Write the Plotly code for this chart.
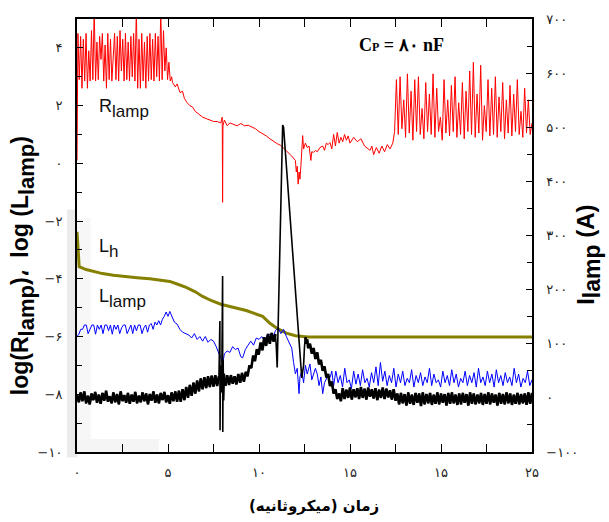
import numpy as np
import plotly.graph_objects as go

# ---------------- data ----------------
# R_lamp  (log scale value, left axis)
r_start_x = [0.0, 0.03]
r_start_y = [0.1, 4.2]
r_band1_range = (0.05, 5.2)
r_band1 = [4.5, 2.9, 4.4, 2.6, 4.3, 2.85, 4.5, 2.6, 3.9, 2.85, 4.6, 2.9, 5.3, 2.85, 4.2, 2.9,
           4.4, 3.6, 4.5, 2.85, 4.1, 2.6, 4.5, 2.9, 4.3, 2.85, 3.8, 4.5, 2.9, 4.4, 2.85, 4.6,
           3.2, 4.3, 2.85, 4.5, 2.9, 4.2, 2.85, 4.4, 3.0, 4.5, 2.85, 5.3, 2.6, 4.3, 2.6, 4.5,
           2.85, 4.2, 2.6, 4.4, 2.85, 4.5, 2.9, 4.3, 2.85, 4.5, 3.0, 4.4, 2.85, 5.3, 2.9, 4.6,
           3.2, 4.0, 2.9, 3.5, 2.85, 3.0]
r_mid_x = [5.25, 5.4, 5.5, 5.66, 5.8, 5.9, 6.05, 6.2, 6.35, 6.5, 6.7, 6.9, 7.1, 7.3, 7.5, 7.7,
           7.9, 7.98, 8.0, 8.02, 8.1, 8.25, 8.4, 8.6, 8.8, 9.0, 9.2, 9.4, 9.6, 9.8, 10.0, 10.2,
           10.4, 10.6, 10.8, 11.0, 11.2, 11.4, 11.6, 11.8, 12.0, 12.05, 12.1, 12.15, 12.2, 12.25,
           12.3, 12.35, 12.4, 12.45, 12.55, 12.65, 12.75, 12.85, 12.9, 13.0, 13.1, 13.2, 13.35,
           13.5, 13.6, 13.7, 13.8, 13.9, 14.0, 14.1, 14.2, 14.3, 14.4, 14.5, 14.6, 14.7, 14.8,
           14.9, 15.0, 15.2, 15.4, 15.6, 15.8, 16.0, 16.1, 16.2, 16.3, 16.45, 16.6, 16.75, 16.9,
           17.05, 17.2, 17.35]
r_mid_y = [2.8, 2.65, 2.75, 2.45, 2.5, 2.25, 2.1, 2.0, 1.95, 1.8, 1.7, 1.6, 1.55, 1.5, 1.45, 1.45,
           1.4, 1.6, -1.35, 1.3, 1.5, 1.3, 1.4, 1.35, 1.3, 1.38, 1.3, 1.32, 1.25, 1.2, 1.1, 1.03,
           0.95, 0.85, 0.75, 0.68, 0.62, 0.5, 0.4, 0.25, 0.1, -0.3, -0.1, -0.72, -0.3, -0.55,
           -0.1, 0.3, 0.96, 0.5, 0.7, 0.55, 0.6, 0.1, 0.4, 0.38, 0.45, 0.4, 0.55,
           0.6, 0.45, 0.7, 0.65, 0.72, 0.5, 1.0, 0.6, 1.07, 0.7, 0.9, 0.75, 1.0, 0.8,
           0.95, 0.7, 0.9, 0.75, 0.85, 0.6, 0.5, 0.45, 0.6, 0.3, 0.55, 0.35, 0.6, 0.4,
           0.65, 0.5, 0.7]
r_band2_range = (17.45, 25.0)
r_band2 = [1.1, 2.9, 1.0, 3.0, 1.2, 2.2, 0.9, 3.1, 1.05, 2.5, 0.8, 2.9, 1.1, 3.0, 1.0, 1.9, 0.85,
           2.8, 1.1, 2.4, 1.0, 3.1, 0.9, 2.6, 1.1, 1.6, 0.8, 2.9, 1.05, 2.2, 0.95, 2.7, 1.1, 3.0,
           0.9, 2.1, 1.0, 2.8, 0.85, 2.5, 1.1, 3.2, 1.0, 3.5, 0.9, 2.4, 1.05, 3.4, 0.8, 2.0, 1.1,
           2.9, 0.95, 2.6, 1.0, 3.0, 0.9, 2.3, 1.1, 2.8, 0.85, 2.2, 1.05, 2.7, 0.95, 2.4, 1.1,
           2.9, 1.0, 1.8, 0.9, 2.6, 1.05, 2.2, 1.0, 1.4]

# L_h (left axis)
lh_x = [0, 0.08, 0.12, 0.5, 1.0, 1.4, 2.0, 2.5, 3.3, 4.0, 4.5, 5.1, 5.5, 6.0, 6.5, 6.9, 7.4,
        7.9, 8.4, 8.8, 9.3, 9.7, 10.2, 10.6, 11.0, 11.5, 12.0, 12.4, 12.7, 25]
lh_y = [-2.37, -3.2, -3.58, -3.68, -3.76, -3.82, -3.88, -3.92, -3.96, -4.0, -4.04, -4.09, -4.18,
        -4.3, -4.45, -4.61, -4.76, -4.88, -4.96, -5.02, -5.1, -5.19, -5.3, -5.54, -5.72, -5.88,
        -5.97, -6.0, -6.02, -6.02]

# L_lamp (left axis)
ll_band1_range = (0.0, 5.0)
ll_band1 = [-6.0, -5.92, -5.75, -5.75, -5.6, -5.6, -5.9, -5.75, -5.6, -5.6, -5.92, -5.6, -5.75,
            -5.6, -5.9, -5.6, -5.6, -5.8, -5.6, -5.92, -5.6, -5.75, -5.6, -5.9, -5.7, -5.6, -5.6,
            -5.9, -5.75, -5.6, -5.9, -5.6, -5.8, -5.6, -5.6, -5.9, -5.7, -5.6, -5.85, -5.6, -5.55,
            -5.75, -5.5, -5.6, -5.45, -5.6, -5.4, -5.3, -5.15, -5.3]
ll_mid_x = [5.1, 5.2, 5.35, 5.5, 5.65, 5.8, 6.0, 6.15, 6.3, 6.45, 6.6, 6.75, 6.9, 7.05, 7.2,
            7.35, 7.5, 7.65, 7.8, 7.9, 8.0, 8.1, 8.25, 8.4, 8.55, 8.7, 8.85, 9.0, 9.1, 9.25, 9.4,
            9.55, 9.7, 9.85, 10.0, 10.15, 10.3, 10.45, 10.6, 10.75, 10.9, 11.05, 11.2, 11.35,
            11.5, 11.65, 11.8, 11.9, 12.0, 12.1, 12.2, 12.25, 12.35, 12.45, 12.55, 12.65, 12.8,
            12.9, 13.0, 13.1, 13.2, 13.3, 13.4, 13.5, 13.6, 13.75, 13.9, 14.0]
ll_mid_y = [-5.13, -5.3, -5.5, -5.57, -5.75, -5.85, -5.92, -5.95, -6.05, -5.9, -6.1, -6.0, -6.16,
            -6.0, -6.2, -6.1, -6.16, -6.35, -6.6, -6.7, -6.95, -6.6, -6.5, -6.55, -6.35, -6.45,
            -6.4, -6.7, -6.74, -6.45, -6.3, -6.16, -6.3, -6.05, -6.1, -6.0, -6.15, -5.95, -5.92,
            -6.05, -5.8, -5.7, -5.9, -5.75, -6.0, -6.2, -6.4, -6.9, -7.29, -7.1, -7.98, -7.4,
            -7.2, -7.6, -7.0, -7.3, -6.95, -7.5, -7.25, -7.1, -7.3, -7.7, -7.4, -7.98, -7.6,
            -7.4, -7.43, -7.2]
ll_band2_range = (14.1, 25.0)
ll_band2 = [-7.7, -7.2, -7.6, -7.35, -7.75, -7.1, -7.6, -7.5, -7.8, -7.2, -7.65, -7.3, -7.7, -7.15,
            -7.6, -7.45, -7.75, -7.25, -7.6, -7.05, -7.7, -6.9, -7.55, -7.2, -7.7, -7.35, -7.6,
            -7.1, -7.75, -7.3, -7.6, -7.2, -7.7, -7.45, -7.6, -7.15, -7.75, -7.35, -7.6, -7.25,
            -7.7, -7.4, -7.6, -7.1, -7.7, -7.3, -7.6, -7.5, -7.75, -7.2, -7.6, -7.35, -7.7, -7.15,
            -7.6, -7.3, -7.75, -7.45, -7.6, -7.2, -7.7, -7.35, -7.6, -7.25, -7.75, -7.1, -7.6,
            -7.4, -7.7, -7.2, -7.6, -7.3, -7.75, -7.15, -7.6, -7.35, -7.7, -7.25, -7.6, -7.4,
            -7.7, -7.1, -7.6, -7.3, -7.75, -7.45, -7.6, -7.2, -7.7, -7.5]

# I_lamp (A, right axis)
i_band1_range = (0.0, 5.5)
i_band1 = [5, -8, 10, -6, 12, -10, 4, -12, 8, -4, 11, -9, 6, -11, 9, -5, 13, -7, 3, -10, 10, -8,
           7, -12, 12, -6, 5, -9, 9, -11, 6, -7, 11, -10, 4, -8, 10, -6, 8, -12, 7, -5, 12, -9,
           6, -10, 9, -4, 11, -8, 5, -11, 10, -6, 12, -7]
i_rise_range = (5.6, 7.8)
i_rise = [13, -7, 16, -4, 20, 0, 24, 4, 28, 8, 32, 12, 36, 16, 38, 18, 40, 20, 41, 21, 42, 22, 40]
i_spike_x = [7.85, 7.86, 7.88, 7.92, 7.96, 8.0, 8.01, 8.03, 8.06, 8.1]
i_spike_y = [142, -60, 60, 10, 55, 225, -63, 70, -5, 45]
i_pre_range = (8.15, 10.9)
i_pre = [22, 42, 24, 42, 26, 40, 25, 44, 28, 46, 30, 48, 40, 60, 55, 78, 68, 90, 80, 102, 88, 112,
         96, 118, 100, 120, 104, 118]
i_peak_x = [10.95, 11.0, 11.3, 11.35, 12.35, 12.45, 12.5]
i_peak_y = [95, 56, 504, 500, 37, 60, 95]
i_bump_x = [12.55, 12.6, 12.65, 12.7, 12.8, 12.9, 13.0, 13.1, 13.2, 13.3, 13.4, 13.5, 13.6, 13.7,
            13.8, 13.9, 14.0, 14.1, 14.2, 14.3, 14.4, 14.5]
i_bump_y = [112, 100, 108, 92, 100, 82, 92, 72, 84, 62, 70, 50, 58, 38, 44, 22, 30, 8, 16, -2, 8,
            -6]
i_tail_range = (14.6, 25.0)
i_tail = [18, -2, 15, 0, 19, -3, 16, 1, 18, -2, 20, 0, 17, -3, 19, 2, 16, -1, 18, -4, 15, 0, 19,
          -2, 17, 1, 14, -3, 16, -5,
          8, -12, 9, -10, 7, -14, 10, -11, 6, -13, 9, -9, 8, -15, 10, -12, 7, -10, 9, -13, 6,
          -11, 10, -12, 8, -9, 7, -14, 9, -11, 10, -10, 6, -13, 8, -12, 9, -9, 7, -14, 10, -11,
          8, -12, 6, -10, 9, -13, 7, -11, 10, -12, 8, -9, 6, -14, 9, -11, 7, -12, 10, -10, 8,
          -13, 6, -11, 9, -12, 7, -10, 8, -13, 10, -11, 9]

# tick labels
x_tickvals = [0, 5, 10, 15, 20, 25]
x_ticktext = ["۰", "۵", "۱۰", "۱۵", "۱۵", "۲۵"]
y_tickvals = [-10, -8, -6, -4, -2, 0, 2, 4]
y_ticktext = ["−۱۰", "−۸", "−۶", "−۴", "−۲", "۰", "۲", "۴"]
y2_tickvals = [-100, 0, 100, 200, 300, 400, 500, 600, 700]
y2_ticktext = ["−۱۰۰", "۰", "۱۰۰", "۲۰۰", "۳۰۰", "۴۰۰", "۵۰۰", "۶۰۰", "۷۰۰"]


def seg(rng, vals):
    return list(np.linspace(rng[0], rng[1], len(vals))), list(vals)


rx1, ry1 = seg(r_band1_range, r_band1)
rx2, ry2 = seg(r_band2_range, r_band2)
r_x = r_start_x + rx1 + r_mid_x + rx2
r_y = r_start_y + ry1 + r_mid_y + ry2

lx1, ly1 = seg(ll_band1_range, ll_band1)
lx2, ly2 = seg(ll_band2_range, ll_band2)
ll_x = lx1 + ll_mid_x + lx2
ll_y = ly1 + ll_mid_y + ly2

ix1, iy1 = seg(i_band1_range, i_band1)
ix2, iy2 = seg(i_rise_range, i_rise)
ix3, iy3 = seg(i_pre_range, i_pre)
ix4, iy4 = seg(i_tail_range, i_tail)
i_x = ix1 + ix2 + i_spike_x + ix3 + i_peak_x + i_bump_x + ix4
i_y = iy1 + iy2 + i_spike_y + iy3 + i_peak_y + i_bump_y + iy4

# ---------------- figure ----------------
fig = go.Figure()
fig.add_trace(go.Scatter(x=r_x, y=r_y, mode="lines", line=dict(color="#ff0000", width=1),
                         yaxis="y", showlegend=False))
fig.add_trace(go.Scatter(x=lh_x, y=lh_y, mode="lines", line=dict(color="#858000", width=3),
                         yaxis="y", showlegend=False))
fig.add_trace(go.Scatter(x=ll_x, y=ll_y, mode="lines", line=dict(color="#0000ff", width=1),
                         yaxis="y", showlegend=False))
# thin full current trace
fig.add_trace(go.Scatter(x=i_x, y=i_y, mode="lines", line=dict(color="#000000", width=1.6),
                         yaxis="y2", showlegend=False))
# thicker rendering of the noisy (dense) portions of the current trace
for xs, ys in [(ix1 + ix2, iy1 + iy2), (ix3, iy3), (i_bump_x + ix4, i_bump_y + iy4)]:
    fig.add_trace(go.Scatter(x=xs, y=ys, mode="lines", line=dict(color="#000000", width=2.6),
                             yaxis="y2", showlegend=False))

tickfont = dict(family="DejaVu Sans", size=13, color="#222")
fig.update_layout(
    width=609, height=522,
    margin=dict(l=77, r=77, t=16, b=70),
    paper_bgcolor="white", plot_bgcolor="rgba(0,0,0,0)",
    xaxis=dict(range=[0, 25], showline=True, linecolor="black", linewidth=1.5, mirror="allticks",
               ticks="inside", ticklen=8, tickcolor="black", tickwidth=1,
               tickvals=x_tickvals, ticktext=x_ticktext, tickfont=tickfont,
               ticklabelstandoff=8,
               minor=dict(dtick=2.5, ticks="inside", ticklen=5, tickcolor="black"),
               showgrid=False, zeroline=False),
    yaxis=dict(range=[-10, 5], showline=True, linecolor="black", linewidth=2,
               ticks="inside", ticklen=6, tickcolor="black",
               tickvals=y_tickvals, ticktext=y_ticktext, tickfont=tickfont,
               ticklabelstandoff=10,
               minor=dict(dtick=1, ticks="inside", ticklen=5, tickcolor="black"),
               showgrid=False, zeroline=False),
    yaxis2=dict(range=[-100, 700], overlaying="y", side="right", showline=True,
                linecolor="black", linewidth=1.5,
                ticks="inside", ticklen=6, tickcolor="black",
                tickvals=y2_tickvals, ticktext=y2_ticktext, tickfont=tickfont,
                ticklabelstandoff=10,
                minor=dict(dtick=50, ticks="inside", ticklen=5, tickcolor="black"),
                showgrid=False, zeroline=False),
)

# faint grey watermark near the lower-left corner
fig.add_shape(type="rect", xref="paper", yref="paper", x0=-0.022, x1=0.0, y0=-0.012, y1=0.56,
              fillcolor="#ebebeb", line_width=0, layer="below")
fig.add_shape(type="rect", xref="paper", yref="paper", x0=0.0, x1=0.03, y0=0.0, y1=0.54,
              fillcolor="#f7f7f7", line_width=0, layer="below")
fig.add_shape(type="rect", xref="paper", yref="paper", x0=0.0, x1=0.18, y0=0.0, y1=0.03,
              fillcolor="#f5f5f5", line_width=0, layer="below")

lab_font = dict(family="Liberation Sans, Arial", size=18, color="#111")


def subs(txt, size, shift):
    return "<span style='font-size:%dpx;baseline-shift:-%dpx'>%s</span>" % (size, shift, txt)


fig.add_annotation(x=1.1, y=1.9, xref="x", yref="y", text="R" + subs("lamp", 17, 5),
                   showarrow=False, xanchor="left", yanchor="middle", font=lab_font)
fig.add_annotation(x=1.1, y=-2.95, xref="x", yref="y", text="L" + subs("h", 17, 5),
                   showarrow=False, xanchor="left", yanchor="middle", font=lab_font)
fig.add_annotation(x=1.1, y=-4.68, xref="x", yref="y", text="L" + subs("lamp", 17, 5),
                   showarrow=False, xanchor="left", yanchor="middle", font=lab_font)
fig.add_annotation(x=15.4, y=4.1, xref="x", yref="y",
                   text="<b>C<span style='font-size:12px'>P</span> = ۸۰ nF</b>",
                   showarrow=False, xanchor="left", yanchor="middle",
                   font=dict(family="Liberation Serif, Times New Roman", size=18, color="black"))

fig.add_annotation(x=-0.12, y=0.43, xref="paper", yref="paper", textangle=-90,
                   text="<b>log(R" + subs("lamp", 22, 6) + ")،  log (L" + subs("lamp", 22, 6) + ")</b>",
                   showarrow=False, xanchor="center", yanchor="middle",
                   font=dict(family="Liberation Sans, Arial", size=23, color="black"))
fig.add_annotation(x=1.125, y=0.455, xref="paper", yref="paper", textangle=-90,
                   text="<b>I" + subs("lamp", 23, 6) + " (A)</b>",
                   showarrow=False, xanchor="center", yanchor="middle",
                   font=dict(family="Liberation Sans, Arial", size=24, color="black"))
fig.add_annotation(x=0.52, y=-0.125, xref="paper", yref="paper",
                   text="<b>زمان (میکروثانیه)</b>",
                   showarrow=False, xanchor="center", yanchor="middle",
                   font=dict(family="DejaVu Sans", size=15, color="black"))

fig.write_html("out.html")
